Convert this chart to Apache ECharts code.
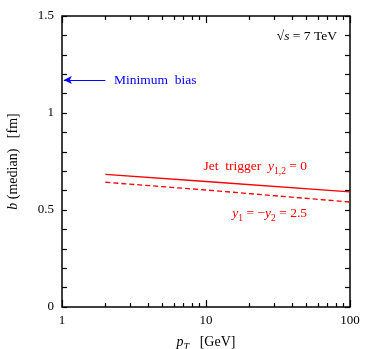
<!DOCTYPE html>
<html><head><meta charset="utf-8">
<script src="https://cdn.jsdelivr.net/npm/echarts@6/dist/echarts.min.js"></script>
<style>html,body{margin:0;padding:0;background:#fff}#c{width:374px;height:349px}</style>
</head><body><div id="c"></div>
<script>
const pT = [2, 10, 100];
const bJetCentral = [0.684, 0.647, 0.593];
const bJetForward = [0.643, 0.603, 0.541];
const minBiasB = 1.17;
const minBiasArrowX = [1.03, 2];
const xMajorTicks = [1, 10, 100];
const xMinorTicks = [2,3,4,5,6,7,8,9,20,30,40,50,60,70,80,90];

const FONT = 'Liberation Serif';
const RED = '#ff0000';
const BLUE = '#0000ff';
const chart = echarts.init(document.getElementById('c'), null, {renderer: 'canvas'});

function zip(xs, ys){ return xs.map((x,i)=>[x, ys[i]]); }

const xBase = {type:'log', logBase:10, min:1, max:100, splitLine:{show:false}, axisLine:{show:false}, axisLabel:{show:false}};
const option = {
  animation:false,
  grid:{left:62, right:24, top:16, bottom:42, outerBoundsMode:'none', containLabel:false, show:true, borderColor:'#000', borderWidth:1.5, backgroundColor:'transparent'},
  xAxis:[
    Object.assign({}, xBase, {position:'bottom',
      axisTick:{show:true, inside:true, length:7, lineStyle:{color:'#000', width:1.2}, customValues: xMajorTicks},
      axisLabel:{show:true, margin:7, color:'#000', fontFamily:FONT, fontSize:13, customValues: xMajorTicks, formatter: v => String(Math.round(v))},
      name:'{i|p}{s|T}   [GeV]', nameLocation:'middle', nameGap:25,
      nameTextStyle:{color:'#000', fontFamily:FONT, fontSize:14, rich:{i:{fontStyle:'italic', fontFamily:FONT, fontSize:14}, s:{fontStyle:'italic', fontFamily:FONT, fontSize:10, verticalAlign:'bottom', lineHeight:20}}}
    }),
    Object.assign({}, xBase, {position:'bottom', axisTick:{show:true, inside:true, length:4, lineStyle:{color:'#000', width:1.2}, customValues: xMinorTicks}}),
    Object.assign({}, xBase, {position:'top', axisTick:{show:true, inside:true, length:7, lineStyle:{color:'#000', width:1.2}, customValues: xMajorTicks}}),
    Object.assign({}, xBase, {position:'top', axisTick:{show:true, inside:true, length:4, lineStyle:{color:'#000', width:1.2}, customValues: xMinorTicks}})
  ],
  yAxis:[
    {type:'value', min:0, max:1.5, interval:0.5, position:'left',
      axisLine:{show:false}, splitLine:{show:false},
      axisTick:{show:true, inside:true, length:5, lineStyle:{color:'#000', width:1.2}},
      minorTick:{show:true, splitNumber:5, length:5, lineStyle:{color:'#000', width:1.2}},
      axisLabel:{margin:8, color:'#000', fontFamily:FONT, fontSize:13, formatter: v => String(v)},
      name:'{i|b} (median)   [fm]', nameLocation:'middle', nameRotate:90, nameGap:42,
      nameTextStyle:{color:'#000', fontFamily:FONT, fontSize:14, rich:{i:{fontStyle:'italic', fontFamily:FONT, fontSize:14}}}
    },
    {type:'value', min:0, max:1.5, interval:0.5, position:'right',
      axisLine:{show:false}, splitLine:{show:false}, axisLabel:{show:false},
      axisTick:{show:true, inside:true, length:5, lineStyle:{color:'#000', width:1.2}},
      minorTick:{show:true, splitNumber:5, length:5, lineStyle:{color:'#000', width:1.2}}
    }
  ],
  series:[
    {type:'line', name:'central', data: zip(pT, bJetCentral), showSymbol:false, symbol:'none', lineStyle:{color:RED, width:1.3}},
    {type:'line', name:'forward', data: zip(pT, bJetForward), showSymbol:false, symbol:'none', lineStyle:{color:RED, width:1.3, type:[5,3]}},
    {type:'line', name:'minbias', data: zip(minBiasArrowX, [minBiasB, minBiasB]), symbol:'none', lineStyle:{opacity:0},
      markLine:{silent:true, symbol:['arrow','none'], symbolSize:[6,8], label:{show:false},
        lineStyle:{color:BLUE, width:1.2, type:'solid'},
        data:[[{coord:[minBiasArrowX[0], minBiasB]},{coord:[minBiasArrowX[1], minBiasB]}]]}}
  ]
};
chart.setOption(option);

function P(x,y){ return chart.convertToPixel({xAxisIndex:0, yAxisIndex:0}, [x,y]); }
const pMB = P(2.3, minBiasB);
const pJ = P(100, 0.722);
const pF = P(100, 0.48);
const pS = P(100, 1.395);
const richBase = {i:{fontStyle:'italic', fontFamily:FONT, fontSize:13.5}, s:{fontFamily:FONT, fontSize:9.5, verticalAlign:'bottom', lineHeight:20}};
function txt(x, y, text, color, align){
  return {type:'text', x:x, y:y, style:{text:text, fill:color, fontFamily:FONT, fontSize:13.5, align:align, verticalAlign:'middle', rich:richBase}};
}
chart.setOption({graphic:[
  txt(pMB[0], pMB[1], 'Minimum  bias', BLUE, 'left'),
  txt(pJ[0]-43, pJ[1], 'Jet  trigger  {i|y}{s|1,2} = 0', RED, 'right'),
  txt(pF[0]-43, pF[1], '{i|y}{s|1} = \u2212{i|y}{s|2} = 2.5', RED, 'right'),
  txt(pS[0]-13, pS[1], '\u221A{i|s} = 7 TeV', '#000', 'right')
]});
</script></body></html>
